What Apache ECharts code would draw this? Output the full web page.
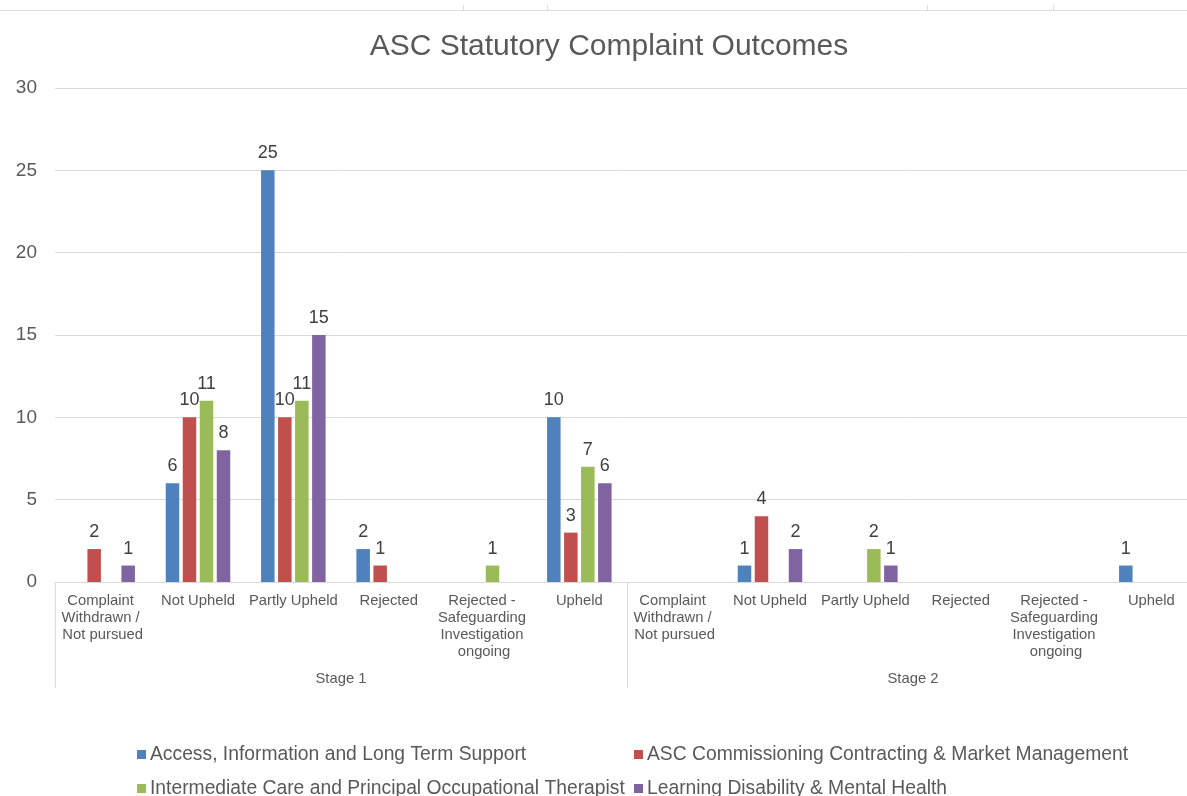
<!DOCTYPE html>
<html>
<head>
<meta charset="utf-8">
<title>ASC Statutory Complaint Outcomes</title>
<script src="https://cdn.jsdelivr.net/npm/echarts@6/dist/echarts.min.js"></script>
<style>
  html, body { margin: 0; padding: 0; background: #ffffff; }
  #chart { width: 1187px; height: 796px; }
</style>
</head>
<body>
<div id="chart"></div>
<script>
// Outcome categories, repeated for each complaint stage
const outcomes = [
  'Complaint Withdrawn / Not pursued',
  'Not Upheld',
  'Partly Upheld',
  'Rejected',
  'Rejected - Safeguarding Investigation ongoing',
  'Upheld'
];
const stages = ['Stage 1', 'Stage 2'];

// Service areas
const seriesNames = [
  'Access, Information and Long Term Support',
  'ASC Commissioning Contracting & Market Management',
  'Intermediate Care and Principal Occupational Therapist',
  'Learning Disability & Mental Health'
];

// Complaint counts: Stage 1 outcomes followed by Stage 2 outcomes (null = none)
const accessInfo      = [null, 6, 25, 2, null, 10,   null, 1, null, null, null, 1];
const commissioning   = [2, 10, 10, 1, null, 3,      null, 4, null, null, null, null];
const intermediateCare = [null, 11, 11, null, 1, 7,  null, null, 2, null, null, null];
const learningDisability = [1, 8, 15, null, null, 6, null, 2, 1, null, null, null];

const yTicks = [0, 5, 10, 15, 20, 25, 30];

const colors = ['#4F81BD', '#C0504D', '#9BBB59', '#8064A2'];
const FONT = "'Liberation Sans', Arial, sans-serif";

const categories = stages.flatMap(() => outcomes);
const values = [accessInfo, commissioning, intermediateCare, learningDisability];

const chart = echarts.init(document.getElementById('chart'), null, { renderer: 'canvas' });

const series = seriesNames.map((name, i) => ({
  name: name,
  type: 'bar',
  xAxisIndex: 0,
  yAxisIndex: 0,
  data: values[i],
  barWidth: 13.5,
  barGap: '26%',
  itemStyle: { color: colors[i] },
  label: {
    show: true,
    position: 'top',
    distance: 8,
    color: '#404040',
    fontFamily: FONT,
    fontSize: 18
  },
  emphasis: { disabled: true }
}));

// Legend laid out as a two-column table: one legend block per entry
const legendSpots = [
  { left: 137, top: 745 },
  { left: 634, top: 745 },
  { left: 137, top: 779 },
  { left: 634, top: 779 }
];
const legends = seriesNames.map((name, i) => ({
  data: [name],
  left: legendSpots[i].left,
  top: legendSpots[i].top,
  padding: 0,
  itemWidth: 9,
  itemHeight: 9,
  icon: 'rect',
  selectedMode: false,
  textStyle: { color: '#595959', fontSize: 19.3, fontFamily: FONT, padding: [0, 0, 0, -1] }
}));

chart.setOption({
  animation: false,
  backgroundColor: '#ffffff',
  textStyle: { fontFamily: FONT },
  color: colors,
  title: {
    text: 'ASC Statutory Complaint Outcomes',
    left: 604,
    top: 27,
    textAlign: 'center',
    textStyle: { color: '#595959', fontSize: 30, fontWeight: 'normal', fontFamily: FONT }
  },
  legend: legends,
  grid: {
    left: 55,
    top: 88,
    right: -12,
    bottom: 214,
    containLabel: false,
    outerBoundsMode: 'none'
  },
  xAxis: [
    {
      type: 'category',
      data: categories,
      position: 'bottom',
      axisLine: { show: true, lineStyle: { color: '#d9d9d9', width: 1 } },
      axisTick: { show: false },
      axisLabel: {
        interval: 0,
        margin: 10,
        width: 94,
        overflow: 'break',
        lineHeight: 17,
        color: '#595959',
        fontSize: 14.8,
        fontFamily: FONT
      },
      splitLine: { show: false }
    },
    {
      type: 'category',
      data: stages,
      position: 'bottom',
      offset: 0,
      axisLine: { show: false },
      axisTick: {
        show: true,
        inside: false,
        length: 106,
        lineStyle: { color: '#d9d9d9', width: 1 }
      },
      axisLabel: {
        interval: 0,
        margin: 89,
        color: '#595959',
        fontSize: 14.8,
        fontFamily: FONT
      },
      splitLine: { show: false }
    }
  ],
  yAxis: {
    type: 'value',
    min: yTicks[0],
    max: yTicks[yTicks.length - 1],
    interval: yTicks[1] - yTicks[0],
    axisLine: { show: false },
    axisTick: { show: false },
    axisLabel: {
      margin: 18,
      color: '#595959',
      fontSize: 19,
      fontFamily: FONT
    },
    splitLine: { show: true, lineStyle: { color: '#d9d9d9', width: 1 } }
  },
  // faint page rule above the chart
  graphic: [
    {
      type: 'group',
      silent: true,
      children: [
        { type: 'line', shape: { x1: 0, y1: 10.5, x2: 1187, y2: 10.5 }, style: { stroke: '#dcdcdc', lineWidth: 1 } },
        { type: 'line', shape: { x1: 463.5, y1: 5, x2: 463.5, y2: 10 }, style: { stroke: '#dcdcdc', lineWidth: 1 } },
        { type: 'line', shape: { x1: 547.5, y1: 5, x2: 547.5, y2: 10 }, style: { stroke: '#dcdcdc', lineWidth: 1 } },
        { type: 'line', shape: { x1: 927.5, y1: 5, x2: 927.5, y2: 10 }, style: { stroke: '#dcdcdc', lineWidth: 1 } },
        { type: 'line', shape: { x1: 1053.5, y1: 5, x2: 1053.5, y2: 10 }, style: { stroke: '#dcdcdc', lineWidth: 1 } }
      ]
    }
  ],
  series: series
});
</script>
</body>
</html>
